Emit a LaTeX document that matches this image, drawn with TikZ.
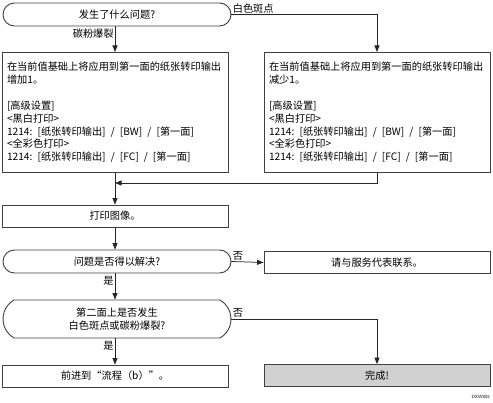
\documentclass[tikz,border=0pt]{standalone}
\usepackage{fontspec}
\newfontfamily\cjk{Noto Sans CJK SC}
\usetikzlibrary{arrows.meta,positioning,shapes.misc}
\tikzset{
  every node/.style={font=\cjk\fontsize{10.2}{12.85}\selectfont},
  decision/.style={draw=black!75, line width=0.9pt, rounded rectangle, minimum width=230pt, minimum height=23pt, inner sep=1pt, align=center},
  proc/.style={draw=black!75, line width=0.9pt, rectangle, minimum width=226pt, minimum height=22pt, inner sep=2pt},
  note/.style={proc, minimum height=120pt, text width=216pt, align=left, inner xsep=5pt},
  lbl/.style={inner sep=1pt},
  arr/.style={-{Triangle[length=6.5pt,width=5pt]}, line width=0.75pt, draw=black!85},
}
\newcommand{\sep}{\enspace/\enspace}

\begin{document}
\begin{tikzpicture}[x=1pt,y=-1pt]
\useasboundingbox (0,0) rectangle (493,403);
% top decision and the two corrections
\node[decision] (what) at (117,14.5) {发生了什么问题?};
\node[note, anchor=north] (more) at (115,52) {在当前值基础上将应用到第一面的纸张转印输出\\增加1。\\[12.85pt]{[}高级设置{]}\\<黑白打印>\\1214:\enspace[纸张转印输出]\sep[BW]\sep[第一面]\\<全彩色打印>\\1214:\enspace[纸张转印输出]\sep[FC]\sep[第一面]};
\node[note, anchor=north] (less) at (377,52) {在当前值基础上将应用到第一面的纸张转印输出\\减少1。\\[12.85pt]{[}高级设置{]}\\<黑白打印>\\1214:\enspace[纸张转印输出]\sep[BW]\sep[第一面]\\<全彩色打印>\\1214:\enspace[纸张转印输出]\sep[FC]\sep[第一面]};
\coordinate (join) at (115,183);
% print and checks
\node[proc] (print) at (115,216) {打印图像。};
\node[decision] (solved) at (117,261.5) {问题是否得以解决?};
\node[proc] (call) at (377,262.5) {请与服务代表联系。};
\node[decision, minimum height=38pt, rounded rectangle arc length=120] (side2) at (117,319) {第二面上是否发生\\白色斑点或碳粉爆裂?};
\node[proc] (flowb) at (115,376) {前进到“流程（b）”。};
\node[proc, fill=black!18] (done) at (377,375.5) {完成!};
\node[font=\sffamily\fontsize{4.5}{5}\selectfont, anchor=east, inner sep=0pt] (code) at (490,397) {DXW802};

\draw[arr] (what.south -| more.north) -- node[lbl, left, pos=.3]{碳粉爆裂} (more.north);
\draw[arr] (what.east) -| node[lbl, above right, pos=0]{白色斑点} (less.north);
\draw[arr] (less.south) |- (join);
\draw[arr] (more) -- (print);
\draw[arr] (print) -- (print |- solved.north);
\draw[arr] (solved.east) -- node[lbl, above right, pos=0]{否} (call.west);
\draw[arr] (solved.south -| print) -- node[lbl, left, pos=.3]{是} (print |- side2.north);
\draw[arr] (side2.east) -| node[lbl, above right, pos=0]{否} (done.north);
\draw[arr] (side2.south -| print) -- node[lbl, left, pos=.3]{是} (flowb.north);
\end{tikzpicture}
\end{document}
